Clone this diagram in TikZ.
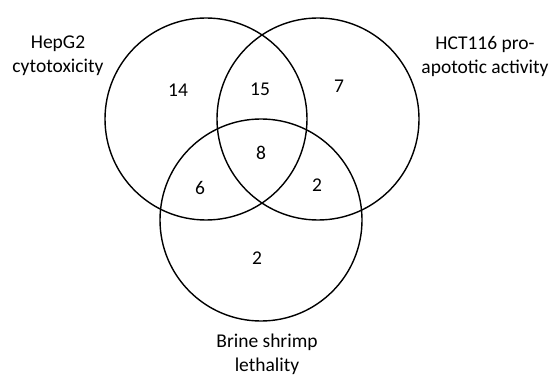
\documentclass[tikz,border=0pt]{standalone}
\usepackage{fontspec}
\setmainfont{Carlito}
\usetikzlibrary{positioning}

\begin{document}
\begin{tikzpicture}[x=1pt,y=-1pt,
   set/.style={circle,draw,line width=1.4pt,minimum size=202pt,inner sep=0pt},
   count/.style={font=\fontsize{19.5}{22}\selectfont},
   every node/.style={font=\fontsize{19.5}{24}\selectfont,align=center}]
  \useasboundingbox (0,0) rectangle (553,379);
  \node[set] (hep) at (206,119) {};
  \node[set] (hct) at (318,119) {};
  \node[set] (bsl) at (261,220) {};
  \node (hepl) at (58,56) {HepG2\\cytotoxicity};
  \node (hctl) at (485,56) {HCT116 pro-\\apototic activity};
  \node (bsll) at (267,354) {Brine shrimp\\lethality};
  \node[count] (n1) at (178,90) {14};
  \node[count] (n2) at (260,89) {15};
  \node[count] (n3) at (339,86) {7};
  \node[count] (n4) at (261,153) {8};
  \node[count] (n5) at (200,188) {6};
  \node[count] (n6) at (317,185) {2};
  \node[count] (n7) at (257,258) {2};
\end{tikzpicture}
\end{document}
